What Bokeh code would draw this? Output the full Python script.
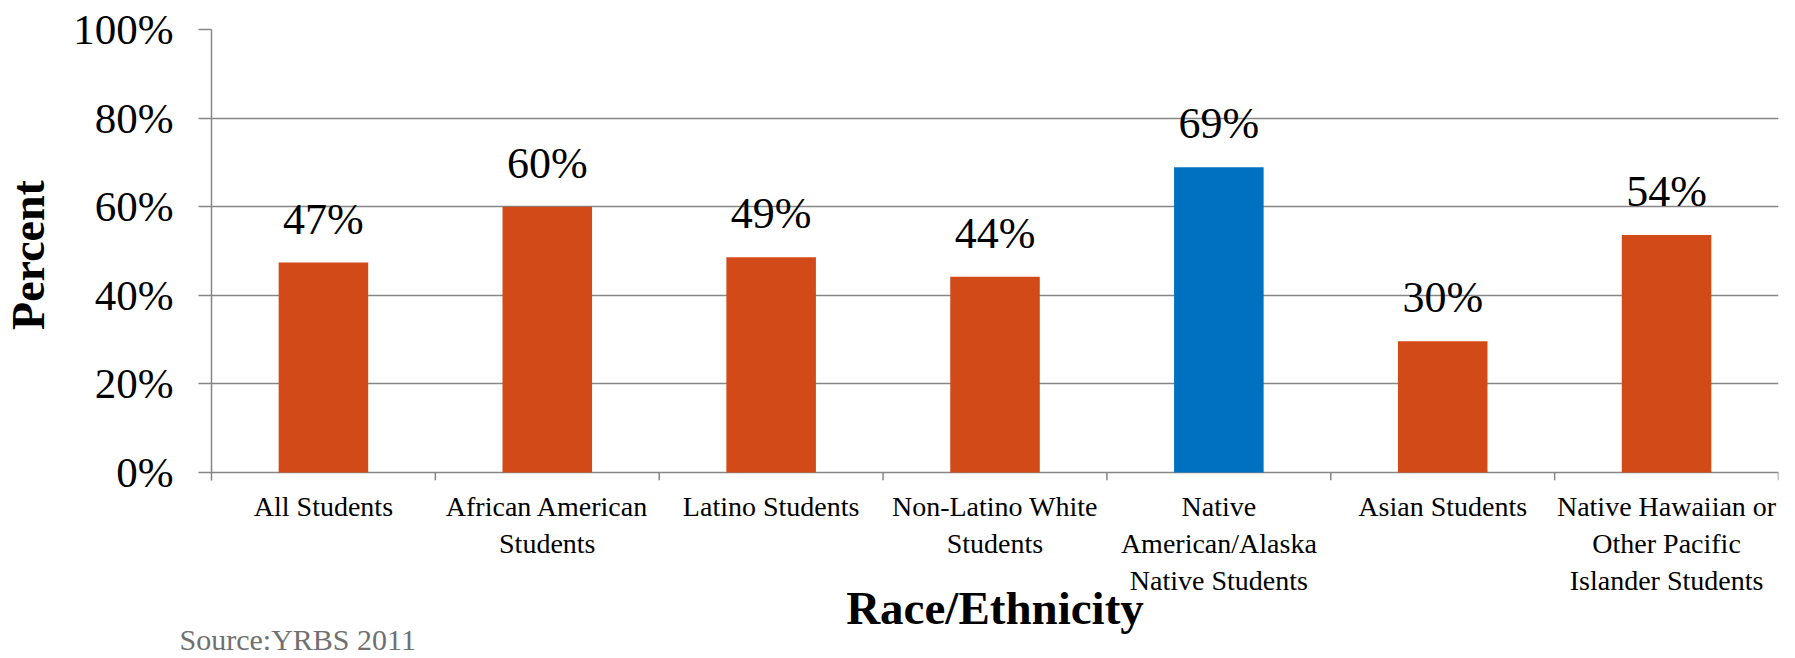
from bokeh.plotting import figure
from bokeh.models import (ColumnDataSource, FactorRange, Range1d, CategoricalAxis,
                          FixedTicker, PrintfTickFormatter, LabelSet, Title)
from bokeh.transform import dodge
from bokeh.embed import file_html
from bokeh.resources import INLINE

# ---- data ----
categories = [
    "All Students",
    "African American\nStudents",
    "Latino Students",
    "Non-Latino White\nStudents",
    "Native\nAmerican/Alaska\nNative Students",
    "Asian Students",
    "Native Hawaiian or\nOther Pacific\nIslander Students",
]
values = [47.4, 60.0, 48.6, 44.2, 68.9, 29.6, 53.6]
value_labels = ["47%", "60%", "49%", "44%", "69%", "30%", "54%"]
highlight = "Native\nAmerican/Alaska\nNative Students"
y_ticks = [0, 20, 40, 60, 80, 100]
x_title = "Race/Ethnicity"
y_title = "Percent"
source_note = "Source:YRBS 2011"

# ---- styles / layout ----
FONT = "Liberation Serif"
ORANGE = "#D24A18"
BLUE = "#0070C0"
GRID = "#868686"
W, H = 1795, 658
TOP, BOTTOM, LEFT, RIGHT = 29, 178, 207, 17
TICK_PX = 8  # category boundary tick length below the 0 line
frame_h = H - TOP - BOTTOM
y_min = -TICK_PX * 100.0 / (frame_h - TICK_PX)

colors = [BLUE if c == highlight else ORANGE for c in categories]
src = ColumnDataSource(dict(cat=categories, val=values, lab=value_labels, color=colors,
                            zero=[0] * len(categories), floor=[y_min] * len(categories)))

p = figure(x_range=FactorRange(factors=categories), y_range=Range1d(y_min, 100),
           width=W, height=H, output_backend="svg", toolbar_location=None,
           x_axis_location=None,
           min_border_left=LEFT, min_border_right=RIGHT,
           min_border_top=TOP, min_border_bottom=BOTTOM)
p.outline_line_color = None
p.background_fill_color = "white"
p.border_fill_color = "white"

p.vbar(x="cat", top="val", width=0.4, bottom=0, color="color", line_color=None, source=src)

# category boundary ticks (right edge of each category)
p.segment(x0=dodge("cat", 0.5, range=p.x_range), x1=dodge("cat", 0.5, range=p.x_range),
          y0="zero", y1="floor", line_color=GRID, line_width=1.5, source=src)

# y axis
ya = p.yaxis[0]
ya.ticker = FixedTicker(ticks=y_ticks)
ya.formatter = PrintfTickFormatter(format="%d%%")
ya.axis_line_color = GRID
ya.axis_line_width = 1.5
ya.major_tick_line_color = GRID
ya.major_tick_line_width = 1.5
ya.major_tick_in = 0
ya.major_tick_out = 13
ya.minor_tick_line_color = None
ya.major_label_standoff = 25
ya.major_label_text_font = FONT
ya.major_label_text_font_size = "43px"
ya.major_label_text_color = "black"
ya.axis_label = y_title
ya.axis_label_standoff = 16
ya.axis_label_text_font = FONT
ya.axis_label_text_font_size = "46px"
ya.axis_label_text_font_style = "bold"
ya.axis_label_text_color = "black"

p.xgrid.visible = False
p.ygrid.grid_line_color = GRID
p.ygrid.grid_line_width = 1.5

cat_axis = CategoricalAxis(axis_line_color=None, major_tick_line_color=None,
                           minor_tick_line_color=None, major_label_standoff=4,
                           major_label_text_font=FONT, major_label_text_font_size="28px",
                           major_label_text_color="black",
                           axis_label=x_title, axis_label_standoff=-17,
                           axis_label_text_font=FONT, axis_label_text_font_size="47px",
                           axis_label_text_font_style="bold", axis_label_text_color="black")
p.add_layout(cat_axis, "below")

p.add_layout(Title(text=source_note, align="left", offset=-32, standoff=-31,
                   text_font=FONT, text_font_size="30px", text_font_style="normal",
                   text_color="#707070"), "below")

# value labels
p.add_layout(LabelSet(x="cat", y="val", text="lab", source=src, y_offset=29,
                      text_align="center", text_baseline="alphabetic",
                      text_font=FONT, text_font_size="44px", text_color="black"))

open("out.html", "w").write(file_html(p, INLINE))
